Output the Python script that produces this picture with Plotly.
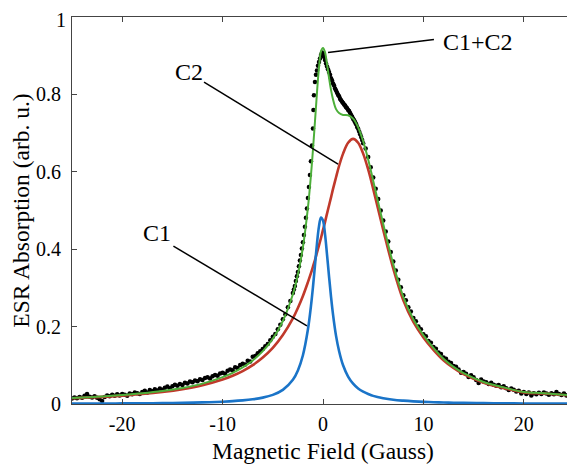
import plotly.graph_objects as go

# ---------------- data ----------------
fit_x = [-25, -22, -20, -18, -16, -14, -12, -10, -9, -8, -7, -6, -5, -4, -3, -2.5, -2, -1.5,
         -1.2, -1, -0.8, -0.6, -0.4, -0.2, 0, 0.2, 0.4, 0.6, 0.8, 1, 1.3, 1.6, 2, 2.5, 3,
         3.5, 4, 4.5, 5, 6, 7, 8, 9, 10, 11, 12, 13, 14, 16, 18, 20, 22, 25]

c1_y = [0.001, 0.001, 0.0015, 0.0018, 0.0023, 0.003, 0.0041, 0.006, 0.0074, 0.0093, 0.0121,
        0.0165, 0.0236, 0.0365, 0.0626, 0.0868, 0.126, 0.193, 0.253, 0.302, 0.358, 0.414,
        0.459, 0.482, 0.474, 0.439, 0.386, 0.330, 0.277, 0.231, 0.176, 0.137, 0.100, 0.071,
        0.0525, 0.040, 0.032, 0.026, 0.021, 0.015, 0.011, 0.0086, 0.0069, 0.0056, 0.0047,
        0.0039, 0.0034, 0.0029, 0.0022, 0.0018, 0.0014, 0.0012, 0.0009]

c2_y = [0.0147, 0.0183, 0.0216, 0.0257, 0.0311, 0.0385, 0.0486, 0.0633, 0.0731, 0.0852,
        0.1005, 0.120, 0.145, 0.178, 0.221, 0.248, 0.279, 0.315, 0.338, 0.355, 0.372, 0.391,
        0.410, 0.429, 0.450, 0.470, 0.492, 0.513, 0.534, 0.556, 0.586, 0.615, 0.647, 0.675,
        0.685, 0.675, 0.647, 0.606, 0.556, 0.450, 0.350, 0.268, 0.212, 0.172, 0.140, 0.113,
        0.093, 0.077, 0.055, 0.041, 0.030, 0.027, 0.021]

sum_y = [0.0156, 0.0195, 0.0231, 0.0275, 0.0334, 0.0415, 0.0527, 0.0693, 0.0805, 0.0945,
         0.1126, 0.1365, 0.1686, 0.2145, 0.2836, 0.3348, 0.405, 0.508, 0.591, 0.657, 0.730,
         0.805, 0.869, 0.911, 0.920, 0.909, 0.878, 0.843, 0.811, 0.787, 0.762, 0.752, 0.747,
         0.746, 0.7375, 0.715, 0.679, 0.632, 0.577, 0.465, 0.361, 0.277, 0.219, 0.178, 0.145,
         0.117, 0.096, 0.080, 0.057, 0.043, 0.031, 0.028, 0.022]

data_x = [-25.0, -24.75, -24.5, -24.25, -24.0, -23.75, -23.5, -23.25, -23.0, -22.75, -22.5,
          -22.25, -22.0, -21.75, -21.5, -21.25, -21.0, -20.75, -20.5, -20.25, -20.0, -19.75,
          -19.5, -19.25, -19.0, -18.75, -18.5, -18.25, -18.0, -17.75, -17.5, -17.25, -17.0,
          -16.75, -16.5, -16.25, -16.0, -15.75, -15.5, -15.25, -15.0, -14.75, -14.5, -14.25,
          -14.0, -13.75, -13.5, -13.25, -13.0, -12.75, -12.5, -12.25, -12.0, -11.75, -11.5,
          -11.25, -11.0, -10.75, -10.5, -10.25, -10.0, -9.75, -9.5, -9.25, -9.0, -8.75, -8.5,
          -8.25, -8.0, -7.75, -7.5, -7.25, -7.0, -6.75, -6.5, -6.25, -6.0, -5.75, -5.5, -5.25,
          -5.0, -4.75, -4.5, -4.25, -4.0, -3.75, -3.5, -3.25,
          -3.0, -2.9, -2.8, -2.7, -2.6, -2.5, -2.4, -2.3, -2.2, -2.1, -2.0, -1.9, -1.8, -1.7,
          -1.6, -1.5, -1.4, -1.3, -1.2, -1.1, -1.0, -0.95, -0.9, -0.8, -0.7, -0.6, -0.5, -0.4,
          -0.3, -0.2, -0.1, 0.0, 0.1, 0.2, 0.3, 0.4, 0.5, 0.6, 0.7, 0.8, 0.9, 1.0, 1.1, 1.2,
          1.3, 1.4, 1.5, 1.6, 1.7, 1.8, 1.9, 2.0, 2.1, 2.2, 2.3, 2.4, 2.5, 2.6, 2.7, 2.8, 2.9,
          3.0, 3.1, 3.2, 3.3, 3.4, 3.5, 3.6, 3.7, 3.8, 3.9, 4.0,
          4.25, 4.5, 4.75, 5.0, 5.25, 5.5, 5.75, 6.0, 6.25, 6.5, 6.75, 7.0, 7.25, 7.5, 7.75,
          8.0, 8.25, 8.5, 8.75, 9.0, 9.25, 9.5, 9.75, 10.0, 10.25, 10.5, 10.75, 11.0, 11.25,
          11.5, 11.75, 12.0, 12.25, 12.5, 12.75, 13.0, 13.25, 13.5, 13.75, 14.0, 14.25, 14.5,
          14.75, 15.0, 15.25, 15.5, 15.75, 16.0, 16.25, 16.5, 16.75, 17.0, 17.25, 17.5, 17.75,
          18.0, 18.25, 18.5, 18.75, 19.0, 19.25, 19.5, 19.75, 20.0, 20.25, 20.5, 20.75, 21.0,
          21.25, 21.5, 21.75, 22.0, 22.25, 22.5, 22.75, 23.0, 23.25, 23.5, 23.75, 24.0, 24.25,
          24.5, 24.75, 25.0]

data_y = [0.014, 0.017, 0.015, 0.018, 0.016, 0.021, 0.026, 0.019, 0.017, 0.020, 0.016,
          0.012, 0.008, 0.018, 0.022, 0.020, 0.024, 0.021, 0.025, 0.022, 0.026, 0.024,
          0.021, 0.027, 0.025, 0.030, 0.028, 0.026, 0.031, 0.034, 0.030, 0.036, 0.033,
          0.038, 0.035, 0.040, 0.037, 0.042, 0.045, 0.041, 0.046, 0.050, 0.047, 0.052,
          0.049, 0.055, 0.053, 0.058, 0.056, 0.061, 0.059, 0.064, 0.062, 0.067, 0.069,
          0.066, 0.072, 0.075, 0.073, 0.079, 0.081, 0.078, 0.086, 0.089, 0.087, 0.095, 0.093,
          0.101, 0.104, 0.102, 0.112, 0.110, 0.122, 0.124, 0.131, 0.136, 0.142, 0.149, 0.155,
          0.165, 0.174, 0.181, 0.193, 0.205, 0.219, 0.232, 0.250, 0.266,
          0.287, 0.296, 0.305, 0.318, 0.330, 0.341, 0.356, 0.371, 0.385, 0.402, 0.418, 0.437,
          0.458, 0.481, 0.505, 0.532, 0.561, 0.592, 0.627, 0.668, 0.712, 0.760, 0.798, 0.832,
          0.851, 0.862, 0.874, 0.884, 0.893, 0.902, 0.908, 0.906, 0.897, 0.889, 0.880, 0.872,
          0.865, 0.858, 0.851, 0.842, 0.836, 0.828, 0.823, 0.815, 0.810, 0.804, 0.799, 0.795,
          0.789, 0.785, 0.781, 0.778, 0.774, 0.771, 0.767, 0.764, 0.760, 0.757, 0.752, 0.747,
          0.742, 0.737, 0.733, 0.728, 0.723, 0.716, 0.711, 0.704, 0.697, 0.690, 0.682, 0.674,
          0.660, 0.638, 0.612, 0.585, 0.556, 0.530, 0.500, 0.474, 0.446, 0.420, 0.393, 0.368,
          0.345, 0.321, 0.302, 0.281, 0.268, 0.250, 0.239, 0.222, 0.214, 0.200, 0.193, 0.180,
          0.175, 0.163, 0.158, 0.147, 0.143, 0.133, 0.129, 0.120, 0.117, 0.109, 0.106, 0.098,
          0.096, 0.089, 0.081, 0.083, 0.078, 0.070, 0.074, 0.069, 0.062, 0.054, 0.063, 0.058,
          0.056, 0.052, 0.055, 0.050, 0.047, 0.049, 0.043, 0.046, 0.041, 0.036, 0.040, 0.037,
          0.032, 0.034, 0.027, 0.031, 0.026, 0.030, 0.022, 0.028, 0.025, 0.029, 0.026, 0.030,
          0.027, 0.024, 0.028, 0.025, 0.031, 0.026, 0.023, 0.027, 0.022, 0.025, 0.021, 0.023]

x_ticks = [-20, -10, 0, 10, 20]
x_tick_labels = ["-20", "-10", "0", "10", "20"]
y_ticks = [0, 0.2, 0.4, 0.6, 0.8, 1]
y_tick_labels = ["0", "0.2", "0.4", "0.6", "0.8", "1"]

FONT = "Liberation Serif, Times New Roman, Times, serif"

fig = go.Figure()
fig.add_trace(go.Scatter(x=data_x, y=data_y, mode="markers",
                         marker=dict(color="black", size=4.5, line=dict(width=0)), showlegend=False))
fig.add_trace(go.Scatter(x=fit_x, y=c2_y, mode="lines", line=dict(color="#C0392B", width=2.6, shape="spline"),
                         showlegend=False))
fig.add_trace(go.Scatter(x=fit_x, y=c1_y, mode="lines", line=dict(color="#1A74C8", width=2.6, shape="spline"),
                         showlegend=False))
fig.add_trace(go.Scatter(x=fit_x, y=sum_y, mode="lines", line=dict(color="#4DAF3A", width=2.0, shape="spline"),
                         showlegend=False))

# leader lines
for (x0, y0, x1, y1) in [(0.5, 0.908, 11.05, 0.942), (-11.85, 0.832, 1.5, 0.620), (-14.9, 0.408, -1.6, 0.202)]:
    fig.add_shape(type="line", xref="x", yref="y", x0=x0, y0=y0, x1=x1, y1=y1,
                  line=dict(color="black", width=1.5))

fig.add_annotation(x=11.75, y=0.936, text="C1+C2", showarrow=False, xanchor="left", yanchor="middle",
                   font=dict(family=FONT, size=24, color="black"))
fig.add_annotation(x=-13.35, y=0.857, text="C2", showarrow=False, xanchor="center", yanchor="middle",
                   font=dict(family=FONT, size=24, color="black"))
fig.add_annotation(x=-16.5, y=0.443, text="C1", showarrow=False, xanchor="center", yanchor="middle",
                   font=dict(family=FONT, size=24, color="black"))

# the top y tick label sits right at the page edge: draw it as a slightly lowered label
# so that it stays fully inside the figure
fig.add_annotation(xref="paper", x=0, y=y_ticks[-1], text=y_tick_labels[-1], showarrow=False,
                   xanchor="right", yanchor="middle", xshift=-5, yshift=-3, borderpad=0,
                   font=dict(family=FONT, size=20, color="black"))
y_tick_text = y_tick_labels[:-1] + [""]

axis_common = dict(showline=True, linecolor="#444444", linewidth=1, mirror="ticks", ticks="inside",
                   ticklen=5, tickcolor="#444444", showgrid=False, zeroline=False, automargin=False,
                   tickfont=dict(family=FONT, size=20, color="black"))

fig.update_xaxes(range=[-25, 25], tickvals=x_ticks, ticktext=x_tick_labels,
                 title=dict(text="Magnetic Field (Gauss)", font=dict(family=FONT, size=23.5, color="black"), standoff=15),
                 ticklabelstandoff=2, **axis_common)
fig.update_yaxes(range=[0, 1], tickvals=y_ticks, ticktext=y_tick_text,
                 title=dict(text="ESR Absorption (arb. u.)", font=dict(family=FONT, size=23.5, color="black"), standoff=7),
                 ticklabelstandoff=6, **axis_common)

# page body adds an 8px offset, so the figure is 8px smaller and the margins are reduced by 8px
fig.update_layout(width=567, height=456, margin=dict(l=64, r=1, t=9, b=60),
                  font=dict(family=FONT),
                  paper_bgcolor="white", plot_bgcolor="white", showlegend=False)

fig.write_html("out.html")
